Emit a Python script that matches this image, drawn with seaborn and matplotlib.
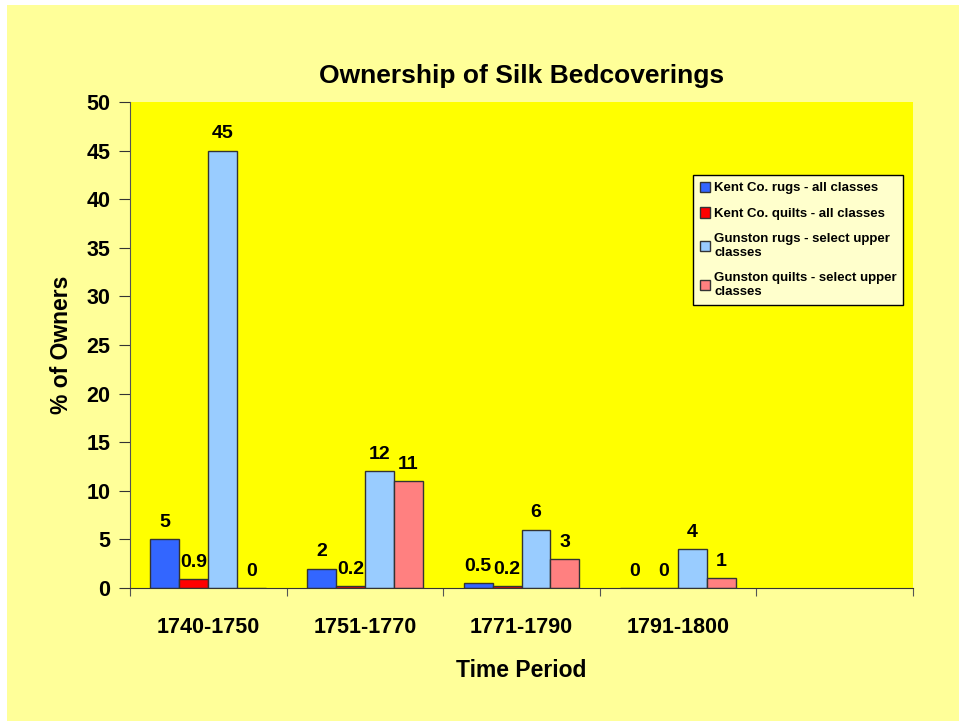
import numpy as np
import matplotlib.pyplot as plt
import matplotlib.patches as mpatches
import pandas as pd
import seaborn as sns

periods = ["1740-1750", "1751-1770", "1771-1790", "1791-1800"]
series = ["Kent Co. rugs - all classes",
          "Kent Co. quilts - all classes",
          "Gunston rugs - select upper\nclasses",
          "Gunston quilts - select upper\nclasses"]
kent_rugs = [5, 2, 0.5, 0]
kent_quilts = [0.9, 0.2, 0.2, 0]
gunston_rugs = [45, 12, 6, 4]
gunston_quilts = [0, 11, 3, 1]
colors = ["#3366FF", "#FF0000", "#99CCFF", "#FF8080"]

rows = []
for s, vals in zip(series, [kent_rugs, kent_quilts, gunston_rugs, gunston_quilts]):
    for p, v in zip(periods, vals):
        rows.append({"Period": p, "Series": s, "Value": v})
df = pd.DataFrame(rows)

sns.set_style("white")
plt.rcParams['font.family'] = ['Liberation Sans', 'DejaVu Sans']
plt.rcParams['text.color'] = 'black'
plt.rcParams['axes.labelcolor'] = 'black'

fig = plt.figure(figsize=(9.59, 7.21), dpi=100, facecolor="white")
fig.patches.append(mpatches.Rectangle((7 / 959, 0), 1, 1 - 5 / 721, transform=fig.transFigure,
                                      facecolor="#FFFF99", edgecolor="none", zorder=-10))
ax = fig.add_axes([130 / 959, 1 - 588 / 721, 783 / 959, 486 / 721])
ax.set_facecolor("#FFFF00")

sns.barplot(data=df, x="Period", y="Value", hue="Series", order=periods,
            hue_order=series, palette=colors, width=0.74, saturation=1,
            edgecolor="#333333", linewidth=1, ax=ax)

for c in ax.containers:
    labels = ["%g" % v for v in c.datavalues]
    ax.bar_label(c, labels=labels, padding=6, fontsize=14, fontweight="bold")

ax.set_xlim(-0.5, 4.5)
ax.set_ylim(0, 50)
ax.set_yticks(range(0, 51, 5))
ax.set_xticks(np.arange(-0.5, 5, 1))
ax.set_xticklabels([])
ax.set_xticks(range(4), minor=True)
ax.set_xticklabels(periods, minor=True)
ax.tick_params(axis="x", which="minor", length=0, pad=21, labelsize=15.5, labelcolor="black")
ax.tick_params(axis="x", which="major", length=6, direction="out", color="#555555", bottom=True)
ax.tick_params(axis="y", length=8, direction="out", color="#333333", labelsize=15.5,
               pad=6, left=True, labelcolor="black")
for lbl in ax.get_xticklabels(minor=True) + ax.get_yticklabels():
    lbl.set_fontweight("bold")

sns.despine(ax=ax, top=True, right=True)
ax.spines["left"].set_color("#555555")
ax.spines["bottom"].set_color("#333333")

ax.set_title("Ownership of Silk Bedcoverings", fontsize=19, fontweight="bold", pad=14)
ax.set_xlabel("Time Period", fontsize=16.5, fontweight="bold", labelpad=15)
ax.set_ylabel("% of Owners", fontsize=16.5, fontweight="bold", labelpad=10)

leg = ax.legend(loc="upper left", bbox_to_anchor=(563 / 783, 1 - 73 / 486),
                fontsize=9.5, frameon=True, fancybox=False, labelspacing=1.0,
                handlelength=0.8, handleheight=0.8, handletextpad=0.3,
                borderpad=0.5, borderaxespad=0)
leg.get_frame().set_facecolor("#FFFFCC")
leg.get_frame().set_edgecolor("black")
leg.get_frame().set_alpha(1)
for t in leg.get_texts():
    t.set_fontweight("bold")

fig.savefig("out.png", dpi=100, facecolor=fig.get_facecolor())
